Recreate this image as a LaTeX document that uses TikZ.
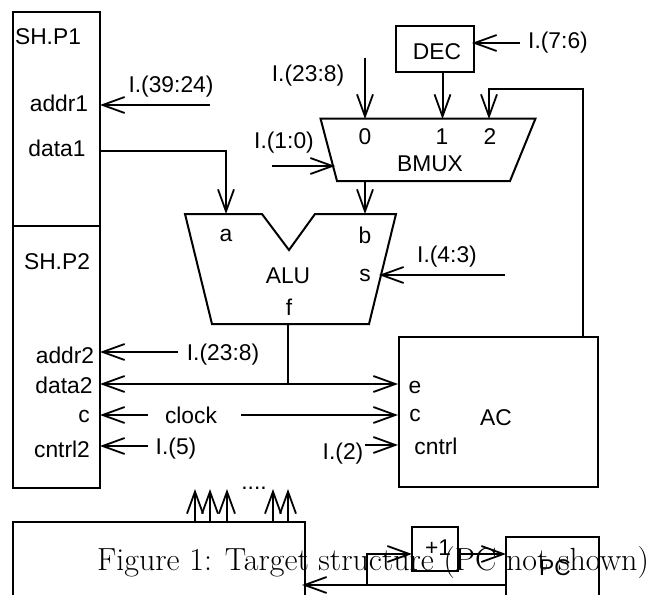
\documentclass[tikz,border=0pt]{standalone}
\usepackage{fontspec}
\setsansfont{Liberation Sans}
\usetikzlibrary{arrows.meta}
\tikzset{
	txt/.style={font=\fontsize{11.4}{13}\selectfont\sffamily,inner sep=0pt},
	box/.style={draw,line width=1pt,inner sep=0pt},
	wire/.style={line width=1pt},
	bus/.style={wire,-{Straight Barb[length=11pt,width=8pt,line width=.9pt]}},
}
\begin{document}
\begin{tikzpicture}[x=0.5pt,y=-0.5pt,line cap=butt,line join=miter]
		\clip (0,0) rectangle (665,595);
		% boxes
		\node[box,minimum width=43.5pt,minimum height=107pt] (shpone) at (56.25,119) {};
		\node[box,minimum width=43.5pt,minimum height=131pt] (shptwo) at (56.25,357) {};
		\node[box,minimum width=39pt,minimum height=23pt] (dec) at (435,49) {};
		\node[box,minimum width=99.5pt,minimum height=75pt] (ac) at (498.5,412) {};
		\node[box,minimum width=146pt,minimum height=80pt] (mem) at (159,602) {};
		\node[box,minimum width=23pt,minimum height=22pt] (inc) at (435,549) {};
		\node[box,minimum width=46.5pt,minimum height=50pt] (pc) at (552.5,587) {};
		% ALU and BMUX
		\draw[wire,line join=miter] (185,214)--(262,214)--(289,250)--(315,214)--(396,214)--(369,324)--(212,324)--cycle;
		\draw[wire] (320.5,118.5)--(535.5,118.5)--(510,181)--(337,181)--cycle;
		% labels
		\node[txt] (lshpone) at (48,37) {SH.P1};
		\node[txt] (laddrone) at (59,103) {addr1};
		\node[txt] (ldataone) at (57,148) {data1};
		\node[txt] (lshptwo) at (57,262) {SH.P2};
		\node[txt] (laddrtwo) at (65,355) {addr2};
		\node[txt] (ldatatwo) at (64,385) {data2};
		\node[txt] (lcmem) at (84,416) {c};
		\node[txt] (lcntrltwo) at (62,449) {cntrl2};
		\node[txt] (iaddrone) at (171,87) {I.(39:24)};
		\node[txt] (iaddrmux) at (308,76) {I.(23:8)};
		\node[txt] (isel) at (284,143) {I.(1:0)};
		\node[txt] (idec) at (558,43) {I.(7:6)};
		\node[txt] (ialu) at (447,257) {I.(4:3)};
		\node[txt] (iaddrtwo) at (223,355) {I.(23:8)};
		\node[txt] (clock) at (191,415) {clock};
		\node[txt] (icntrltwo) at (176,449) {I.(5)};
		\node[txt] (icntrl) at (343,454) {I.(2)};
		\node[txt] at (437,52) (ldec) {DEC};
		\node[txt] (lzero) at (365,137) {0};
		\node[txt] (lone) at (442,137) {1};
		\node[txt] (ltwo) at (490,137) {2};
		\node[txt] (lbmux) at (430,164) {BMUX};
		\node[txt] (la) at (226,235) {a};
		\node[txt] (lb) at (365,235) {b};
		\node[txt] (ls) at (365,275) {s};
		\node[txt] (lalu) at (288,276) {ALU};
		\node[txt] (lf) at (289,307) {f};
		\node[txt] (le) at (415,387) {e};
		\node[txt] (lcac) at (415,415) {c};
		\node[txt] (lcntrl) at (436,446) {cntrl};
		\node[txt] (lac) at (496,418) {AC};
		\node[txt] (ldots) at (254,488) {....};
		\node[txt] (linc) at (438,548) {+1};
		\node[txt] (lpc) at (555,568) {PC};
		% wire ends
		\foreach \n/\x/\y in {a1s/210/105,a1e/100/105,d1s/100/151,d1c/226/151,d1e/226/214,
			m0s/365/58,m0e/365/119,selS/272/166,selE/335/166,decS/520/43,decE/472/43,
			m1s/442.5/73,m1e/442.5/119,fbs/583/337,fbc/583/89,fbd/489/89,fbe/489/119,
			bs/365/181,be/365/214,ss/505/275,se/379/275,fs/288/324,fe/288/384,
			a2s/178/352,a2e/100/352,dl/100/384,dr/398/384,cls/148/415,cle/100/415,
			crs/241/415,cre/398/415,c2s/148/446,c2e/100/446,c3s/365/445,c3e/398/445,
			incs/367/585,incc/367/554,ince/412/554,pcs/458/554,pce/506/554,
			rets/505/585,rete/302/585}
			\coordinate (\n) at (\x,\y);
		\foreach \x [count=\i] in {195,210,227,273,288} {
			\coordinate (us\i) at (\x,522);
			\coordinate (ue\i) at (\x,489);
			\draw[bus] (us\i)--(ue\i);
		}
		% wires
		\draw[bus] (a1s)--(a1e);
		\draw[bus] (d1s)--(d1c)--(d1e);
		\draw[bus] (m0s)--(m0e);
		\draw[bus] (selS)--(selE);
		\draw[bus] (decS)--(decE);
		\draw[bus] (m1s)--(m1e);
		\draw[bus] (fbs)--(fbc)--(fbd)--(fbe);
		\draw[bus] (bs)--(be);
		\draw[bus] (ss)--(se);
		\draw[wire] (fs)--(fe);
		\draw[bus] (a2s)--(a2e);
		\draw[bus,{Straight Barb[length=11pt,width=8pt,line width=.9pt]}-{Straight Barb[length=11pt,width=8pt,line width=.9pt]}] (dl)--(dr);
		\draw[bus] (cls)--(cle);
		\draw[bus] (crs)--(cre);
		\draw[bus] (c2s)--(c2e);
		\draw[bus] (c3s)--(c3e);
		\draw[bus] (incs)--(incc)--(ince);
		\draw[bus] (pcs)--(pce);
		\draw[bus] (rets)--(rete);
		% caption over the lower part
		\node[font=\fontsize{16}{18}\selectfont,inner sep=0pt] (caption) at (373,563) {Figure 1: Target structure (PC not shown)};
\end{tikzpicture}
\end{document}
